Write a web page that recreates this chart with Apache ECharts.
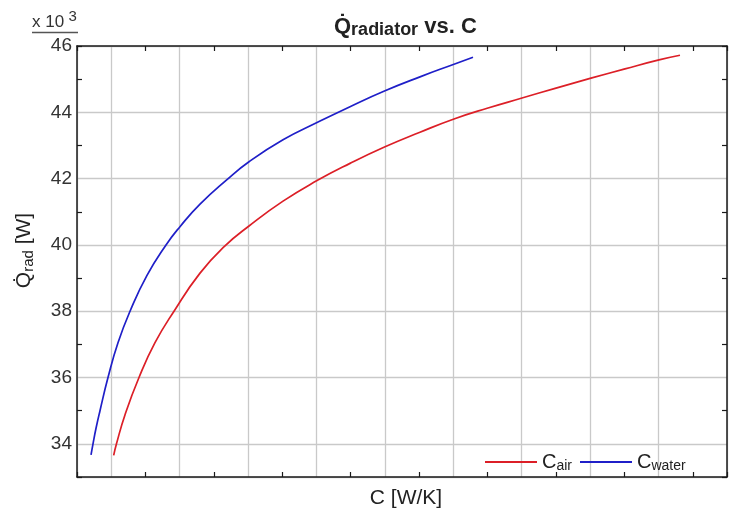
<!DOCTYPE html>
<html>
<head>
<meta charset="utf-8">
<script src="https://cdn.jsdelivr.net/npm/echarts@6/dist/echarts.min.js"></script>
<style>
  html, body { margin: 0; padding: 0; background: #fff; }
  #chart { width: 734px; height: 511px; }
</style>
</head>
<body>
<div id="chart"></div>
<script>
// Heat rejected by the radiator versus heat capacity rate, one curve per fluid.
// C in W/K (the axis carries no numbers), Q in W.
const cAir = [536, 577, 702, 906, 1140, 1418, 1798, 2163, 2514, 3011, 3508, 3990, 4502, 5013, 5510, 6007, 6504, 7001, 7512, 8009, 8506, 8813];
const qAir = [33650, 34000, 34880, 36000, 37050, 38000, 39150, 39970, 40570, 41320, 41940, 42460, 42960, 43400, 43800, 44130, 44430, 44730, 45030, 45310, 45580, 45720];

const cWater = [205, 234, 278, 336, 453, 599, 775, 1023, 1301, 1505, 1798, 2192, 2514, 3011, 3508, 3990, 4502, 5013, 5510, 5788];
const qWater = [33670, 34000, 34470, 35000, 36000, 37050, 38000, 39080, 40000, 40550, 41230, 41970, 42510, 43170, 43690, 44170, 44650, 45070, 45450, 45660];

const seriesNames = ['C_air', 'C_water'];
const seriesColors = ['#dc1f27', '#1f1fc8'];

// Axis ranges
const C_MIN = 0, C_MAX = 9500, C_STEP = 1000;
const Q_MIN = 33000, Q_MAX = 46000, Q_STEP = 2000;
const Y_SCALE = 1000; // tick labels shown in units of 10^3

const FONT = 'Liberation Sans, Arial, sans-serif';
const TXT = '#222';
const GRID_RECT = { left: 77, right: 7, top: 46, bottom: 34 };

function pairs(xs, ys) { return xs.map((x, i) => [x, ys[i]]); }

const chart = echarts.init(document.getElementById('chart'), null, { renderer: 'canvas' });

// axes that form the black frame with short inward ticks
function frameAxis(extra) {
  return Object.assign({
    type: 'value',
    gridIndex: 0,
    axisLine: { show: true, onZero: false, lineStyle: { color: '#1a1a1a', width: 1.5 } },
    axisTick: { show: true, inside: true, length: 5, lineStyle: { color: '#1a1a1a', width: 1.2 } },
    axisLabel: { show: false },
    splitLine: { show: false }
  }, extra);
}

// axes of the back layer that carry the grid lines (and the y tick labels)
function gridAxis(extra) {
  return Object.assign({
    type: 'value',
    gridIndex: 1,
    inverse: true,
    axisLine: { show: false, onZero: false },
    axisTick: { show: false },
    axisLabel: { show: false },
    splitLine: { show: true, lineStyle: { color: '#c9c9c9', width: 1.3 } }
  }, extra);
}

chart.setOption({
  animation: false,
  backgroundColor: '#ffffff',
  title: {
    text: '{q|Q\u0307}{s|radiator}{q| vs. C}',
    left: 334,
    top: 12,
    padding: 0,
    textStyle: {
      rich: {
        q: { fontFamily: FONT, fontSize: 22, fontWeight: 'bold', color: TXT, lineHeight: 30, verticalAlign: 'middle' },
        s: { fontFamily: FONT, fontSize: 18, fontWeight: 'bold', color: TXT, lineHeight: 30, verticalAlign: 'bottom', padding: [0, 0, 3, 0] }
      }
    }
  },
  grid: [
    Object.assign({ show: false, containLabel: false, outerBoundsMode: 'none' }, GRID_RECT),
    Object.assign({ show: false, containLabel: false, outerBoundsMode: 'none' }, GRID_RECT)
  ],
  legend: {
    data: seriesNames,
    icon: 'rect',
    left: 485,
    top: 452,
    padding: 0,
    itemWidth: 52,
    itemHeight: 2,
    itemGap: 8,
    selectedMode: false,
    formatter: function (name) {
      return '{c|C}{s|' + name.split('_')[1] + '}';
    },
    textStyle: {
      rich: {
        c: { fontFamily: FONT, fontSize: 20, color: TXT, lineHeight: 24, verticalAlign: 'middle' },
        s: { fontFamily: FONT, fontSize: 14, color: TXT, lineHeight: 24, verticalAlign: 'bottom', padding: [0, 0, 1, 0] }
      }
    }
  },
  xAxis: [
    frameAxis({
      position: 'bottom', min: C_MIN, max: C_MAX, interval: C_STEP,
      name: 'C [W/K]', nameLocation: 'middle', nameGap: 11,
      nameTextStyle: { fontFamily: FONT, fontSize: 21, color: TXT, verticalAlign: 'top', padding: [0, 0, 0, 8] }
    }),
    frameAxis({ position: 'top', min: C_MIN, max: C_MAX, interval: C_STEP }),
    gridAxis({ position: 'bottom', min: 0, max: C_MAX - C_MIN, interval: C_STEP })
  ],
  yAxis: [
    frameAxis({
      position: 'left', min: Q_MIN, max: Q_MAX, interval: Q_STEP,
      name: '{q|Q\u0307}{s|rad}{q| [W]}', nameLocation: 'middle', nameGap: 38, nameRotate: 90,
      nameTextStyle: {
        padding: [0, 0, 0, 22],
        rich: {
          q: { fontFamily: FONT, fontSize: 21, color: TXT, lineHeight: 30, verticalAlign: 'middle' },
          s: { fontFamily: FONT, fontSize: 15, color: TXT, lineHeight: 30, verticalAlign: 'bottom', padding: [0, 0, 3, 0] }
        }
      }
    }),
    frameAxis({ position: 'right', min: Q_MIN, max: Q_MAX, interval: Q_STEP }),
    gridAxis({
      position: 'left', min: 0, max: Q_MAX - Q_MIN, interval: Q_STEP,
      axisLabel: {
        show: true, margin: 5, fontFamily: FONT, fontSize: 19, color: '#333',
        formatter: function (v) {
          const q = Q_MAX - v;
          return q > Q_MIN ? String(q / Y_SCALE) : '';
        }
      }
    })
  ],
  graphic: [
    {
      type: 'text', x: 32, y: 31,
      style: { text: 'x 10', fontFamily: FONT, fontSize: 17, fill: '#333', verticalAlign: 'bottom' }
    },
    {
      type: 'text', x: 68.5, y: 24.5,
      style: { text: '3', fontFamily: FONT, fontSize: 15, fill: '#333', verticalAlign: 'bottom' }
    },
    { type: 'line', shape: { x1: 32, y1: 32.5, x2: 78, y2: 32.5 }, style: { stroke: '#555', lineWidth: 1.3 } }
  ],
  series: [
    {
      name: seriesNames[0], type: 'line', xAxisIndex: 0, yAxisIndex: 0,
      data: pairs(cAir, qAir), smooth: true, symbol: 'none',
      lineStyle: { color: seriesColors[0], width: 1.7 }, itemStyle: { color: seriesColors[0] }, z: 5
    },
    {
      name: seriesNames[1], type: 'line', xAxisIndex: 0, yAxisIndex: 0,
      data: pairs(cWater, qWater), smooth: true, symbol: 'none',
      lineStyle: { color: seriesColors[1], width: 1.7 }, itemStyle: { color: seriesColors[1] }, z: 5
    }
  ]
});
</script>
</body>
</html>
